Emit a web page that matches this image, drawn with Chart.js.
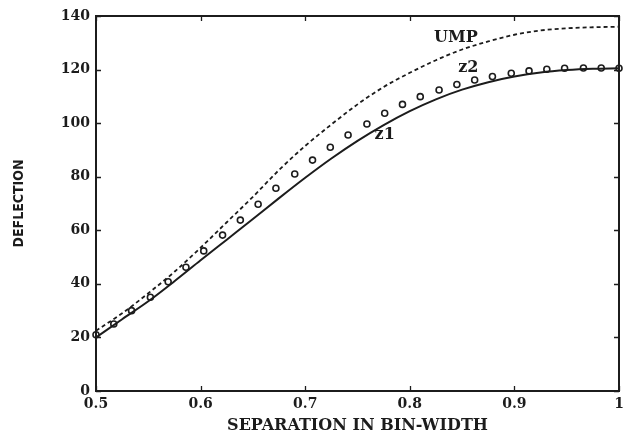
<!DOCTYPE html>
<html>
<head>
<meta charset="utf-8">
<title>Deflection vs separation</title>
<script src="https://cdn.jsdelivr.net/npm/chart.js@4.4.1/dist/chart.umd.min.js"></script>
<style>
  html, body { margin: 0; padding: 0; background: #fff; }
  #wrap { width: 630px; height: 444px; }
</style>
</head>
<body>
<div id="wrap"><canvas id="deflChart"></canvas></div>
<script>
// separation grid for the two continuous curves
const sepX = [0.5, 0.525, 0.55, 0.575, 0.6, 0.625, 0.65, 0.675, 0.7, 0.725, 0.75,
  0.775, 0.8, 0.825, 0.85, 0.875, 0.9, 0.925, 0.95, 0.975, 1.0]
const umpY = [22.5, 29, 36.5, 44.5, 53.5, 63, 72.5, 82.5, 91.5, 99.5, 107,
  113.5, 118.8, 123.5, 127.5, 130.5, 133, 134.6, 135.4, 135.8, 136]
const z1Y = [20, 26.8, 33.5, 41.0, 48.8, 56.5, 64.2, 72.0, 79.6, 86.8, 93.4,
  99.3, 104.5, 108.9, 112.5, 115.3, 117.4, 118.9, 119.8, 120.3, 120.5]

// z2 is plotted as open circles on its own grid
const z2X = [0.5, 0.517, 0.534, 0.552, 0.569, 0.586, 0.603, 0.621, 0.638, 0.655,
  0.672, 0.69, 0.707, 0.724, 0.741, 0.759, 0.776, 0.793, 0.81, 0.828,
  0.845, 0.862, 0.879, 0.897, 0.914, 0.931, 0.948, 0.966, 0.983, 1.0]
const z2Y = [21, 25.0, 30.0, 35.0, 40.8, 46.2, 52.3, 58.2, 63.8, 69.7,
  75.7, 81.0, 86.2, 91.0, 95.6, 99.7, 103.7, 107.0, 109.9, 112.4,
  114.4, 116.1, 117.4, 118.6, 119.5, 120.1, 120.5, 120.6, 120.6, 120.5]

// curve names written next to the curves (data coordinates)
const curveNames = ['UMP', 'z2', 'z1']
const nameX = [0.844, 0.856, 0.776]
const nameY = [132, 120.8, 95.5]

const ink = '#1c1c1c'
const serif = '"DejaVu Serif", "Liberation Serif", serif'

const toPoints = (xs, ys) => xs.map((x, i) => ({ x: x, y: ys[i] }))

// box frame, inward tick marks on all four sides, curve names
const frameAndNames = {
  id: 'frameAndNames',
  afterDatasetsDraw(chart) {
    const { ctx, chartArea: a, scales: { x, y } } = chart
    ctx.save()
    ctx.strokeStyle = ink
    ctx.lineWidth = 1.3
    ctx.beginPath()
    x.ticks.forEach(t => {
      const px = Math.round(x.getPixelForValue(t.value)) + 0.5
      ctx.moveTo(px, a.bottom); ctx.lineTo(px, a.bottom - 5)
      ctx.moveTo(px, a.top); ctx.lineTo(px, a.top + 5)
    })
    y.ticks.forEach(t => {
      const py = Math.round(y.getPixelForValue(t.value)) + 0.5
      ctx.moveTo(a.left, py); ctx.lineTo(a.left + 5, py)
      ctx.moveTo(a.right, py); ctx.lineTo(a.right - 5, py)
    })
    ctx.stroke()

    ctx.lineWidth = 2
    ctx.strokeRect(a.left, a.top, a.right - a.left, a.bottom - a.top)

    ctx.fillStyle = ink
    ctx.font = 'bold 16px ' + serif
    ctx.textAlign = 'center'
    ctx.textBaseline = 'middle'
    curveNames.forEach((name, i) => {
      ctx.fillText(name, x.getPixelForValue(nameX[i]), y.getPixelForValue(nameY[i]))
    })
    ctx.restore()
  }
}

const ctx = document.getElementById('deflChart')

new Chart(ctx, {
  type: 'scatter',
  data: {
    datasets: [
      {
        label: 'UMP',
        data: toPoints(sepX, umpY),
        showLine: true,
        borderColor: ink,
        borderWidth: 1.8,
        borderDash: [4, 3],
        pointRadius: 0,
        cubicInterpolationMode: 'monotone',
      },
      {
        label: 'z1',
        data: toPoints(sepX, z1Y),
        showLine: true,
        borderColor: ink,
        borderWidth: 2,
        pointRadius: 0,
        cubicInterpolationMode: 'monotone',
      },
      {
        label: 'z2',
        data: toPoints(z2X, z2Y),
        showLine: false,
        pointStyle: 'circle',
        pointRadius: 3,
        pointBorderWidth: 1.6,
        pointBorderColor: ink,
        pointBackgroundColor: '#fff',
        clip: false,
      },
    ],
  },
  options: {
    responsive: true,
    maintainAspectRatio: false,
    animation: false,
    layout: {
      padding: { top: 16, right: 11, left: 0, bottom: 0 },
    },
    scales: {
      x: {
        type: 'linear',
        min: 0.5,
        max: 1,
        afterFit: scale => { scale.height = 53 },
        ticks: {
          stepSize: 0.1,
          color: ink,
          padding: 5,
          font: { family: serif, size: 14, weight: 'bold' },
          callback: v => String(+v.toFixed(1)),
        },
        grid: { display: false, drawTicks: false },
        border: { display: false },
        title: {
          display: true,
          text: 'SEPARATION IN BIN-WIDTH',
          color: ink,
          padding: { top: 0, bottom: 9 },
          font: { family: serif, size: 16, weight: 'bold' },
        },
      },
      y: {
        min: 0,
        max: 140,
        afterFit: scale => { scale.width = 96 },
        ticks: {
          stepSize: 20,
          color: ink,
          padding: 6,
          font: { family: serif, size: 14, weight: 'bold' },
        },
        grid: { display: false, drawTicks: false },
        border: { display: false },
        title: {
          display: true,
          text: 'DEFLECTION',
          color: ink,
          padding: { top: 11, bottom: 0 },
          font: { family: '"DejaVu Sans Condensed", "DejaVu Sans", sans-serif', size: 14, weight: 'bold' },
        },
      },
    },
    plugins: {
      legend: { display: false },
      tooltip: { enabled: false },
    },
  },
  plugins: [frameAndNames],
})
</script>
</body>
</html>
